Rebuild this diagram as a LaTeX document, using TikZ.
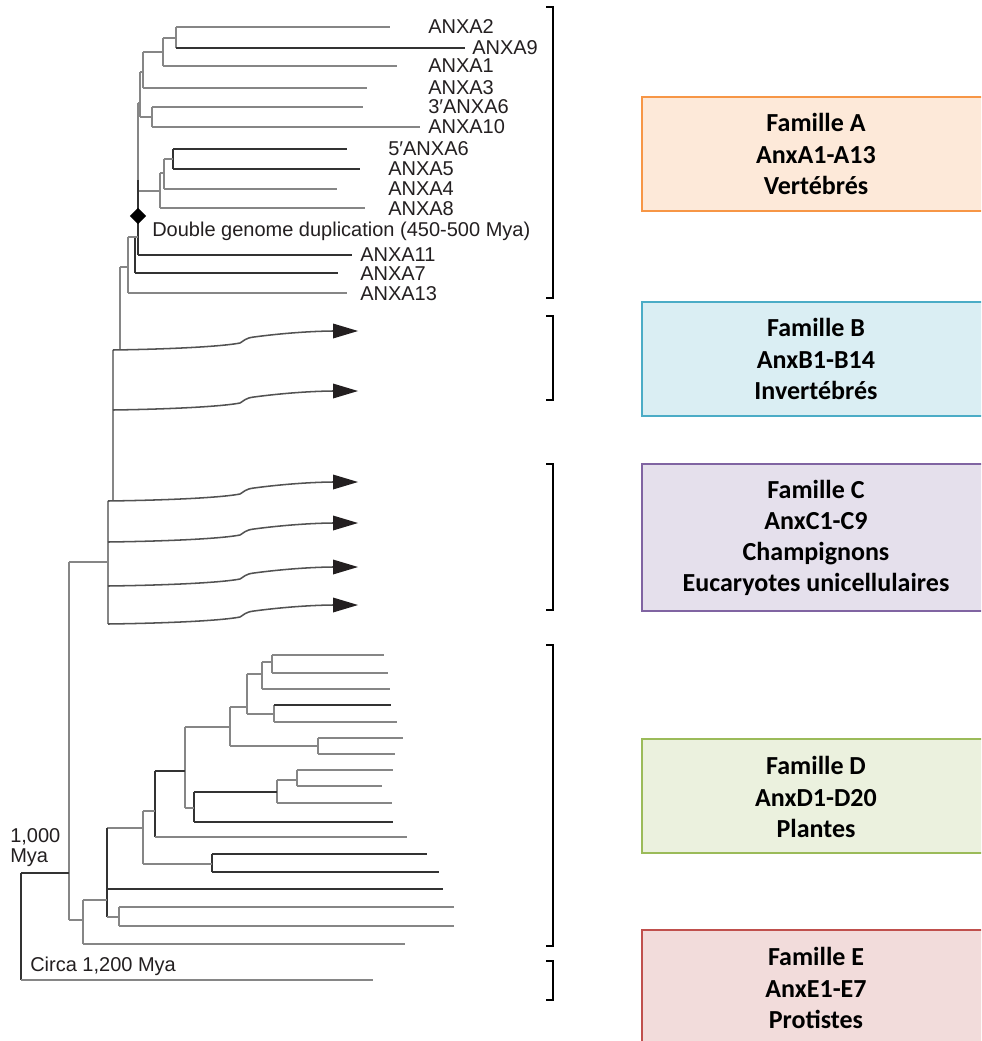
\documentclass[tikz,border=0pt]{standalone}
\usepackage{fontspec}
\setmainfont{Liberation Sans}
\newfontfamily\carlito{Carlito}
\usetikzlibrary{shapes.geometric}
\definecolor{treegray}{HTML}{868686}
\definecolor{treedark}{HTML}{333333}
\definecolor{txt}{HTML}{231F20}
\definecolor{fillA}{HTML}{FDE9D9}\definecolor{lineA}{HTML}{F79646}
\definecolor{fillB}{HTML}{DAEEF3}\definecolor{lineB}{HTML}{4BACC6}
\definecolor{fillC}{HTML}{E5E0EC}\definecolor{lineC}{HTML}{8064A2}
\definecolor{fillD}{HTML}{EBF1DE}\definecolor{lineD}{HTML}{9BBB59}
\definecolor{fillE}{HTML}{F2DCDB}\definecolor{lineE}{HTML}{C0504D}
\tikzset{
  tr/.style={line width=1.15pt, draw=treegray},
  dk/.style={line width=1.15pt, draw=treedark},
  crv/.style={line width=1.15pt, draw=treedark!85},
  lbl/.style={anchor=base west, inner sep=0pt, text=txt, font=\fontsize{15}{17}\selectfont},
  brk/.style={line width=1.2pt, draw=black},
  fambox/.style={line width=1.2pt},
  famtext/.style={align=center, inner sep=0pt, font=\carlito\bfseries\fontsize{19.5}{23.3}\selectfont}
}
\newcommand{\famcurve}[3]{%
  \coordinate (#1) at (#2,#3);
  \draw[crv] (#1) .. controls (180,{#3-1}) and (225,{#3-4}) .. (240,{#3-7})
     .. controls (244,{#3-9}) and (245,{#3-12}) .. (254,{#3-13})
     .. controls (280,{#3-16.5}) and (310,{#3-18.8}) .. (333,{#3-19});
  \fill[txt] (333,{#3-26.5}) -- (358,{#3-19}) -- (333,{#3-11.5}) -- cycle;
}
\begin{document}
\begin{tikzpicture}[x=0.75pt,y=-0.75pt]
\clip (0,0) rectangle (981,1041);
\fill[white] (0,0) rectangle (981,1041);

% ---------- Family A clade ----------
\draw[tr] (176,27) -- (176,48);
\draw[tr] (176,27) -- (390,27);
\draw[dk] (176,48) -- (465,48);
\draw[tr] (163,38) -- (176,38);
\draw[tr] (163,38) -- (163,66);
\draw[tr] (163,66) -- (397,66);
\draw[tr] (143,52) -- (163,52);
\draw[tr] (143,52) -- (143,88);
\draw[tr] (143,88) -- (367,88);
\draw[tr] (140,72) -- (143,72);
\draw[tr] (152,107) -- (152,127);
\draw[tr] (152,107) -- (363,107);
\draw[tr] (152,127) -- (420,127);
\draw[tr] (140,117) -- (152,117);
\draw[tr] (140,72) -- (140,117);
\draw[tr] (138,103) -- (140,103);
\draw[dk] (173,149) -- (173,169);
\draw[dk] (173,149) -- (347,149);
\draw[dk] (173,169) -- (360,169);
\draw[tr] (164,159) -- (173,159);
\draw[tr] (164,159) -- (164,189);
\draw[tr] (164,189) -- (337,189);
\draw[tr] (160,173) -- (164,173);
\draw[tr] (160,173) -- (160,208);
\draw[tr] (160,208) -- (365,208);
\draw[tr] (138,191) -- (160,191);
\draw[tr] (138,103) -- (138,180);
\draw[dk] (138,180) -- (138,255);
\draw[dk] (138,255) -- (352,255);
\draw[dk] (135,237) -- (135,273);
\draw[dk] (135,273) -- (338,273);
\draw[tr] (128,237) -- (138,237);
\draw[tr] (128,237) -- (128,293);
\draw[tr] (128,293) -- (347,293);
\draw[tr] (120,267) -- (128,267);
\draw[tr] (120,267) -- (120,350);
\node[diamond, fill=black, inner sep=0pt, minimum size=12.5pt] (dup) at (138,216) {};

\node[lbl] (lA2) at (428,34) {ANXA2};
\node[lbl] (lA9) at (472,55) {ANXA9};
\node[lbl] (lA1) at (428,73) {ANXA1};
\node[lbl] (lA3) at (428,95) {ANXA3};
\node[lbl] (lA6a) at (428,114) {3′ANXA6};
\node[lbl] (lA10) at (428,134) {ANXA10};
\node[lbl] (lA6b) at (388,156) {5′ANXA6};
\node[lbl] (lA5) at (388,176) {ANXA5};
\node[lbl] (lA4) at (388,196) {ANXA4};
\node[lbl] (lA8) at (388,215) {ANXA8};
\node[lbl] (ldup) at (152,237) {Double genome duplication (450-500 Mya)};
\node[lbl] (lA11) at (360,262) {ANXA11};
\node[lbl] (lA7) at (360,280) {ANXA7};
\node[lbl] (lA13) at (360,300) {ANXA13};

% ---------- Families B and C ----------
\draw[tr] (113,350) -- (113,501);
\draw[tr] (108,501) -- (108,624);
\famcurve{b1}{113}{350}
\famcurve{b2}{113}{410}
\famcurve{c1}{108}{501}
\famcurve{c2}{108}{542}
\famcurve{c3}{108}{586}
\famcurve{c4}{108}{624}
\draw[tr] (69,562) -- (108,562);

% ---------- Family D clade ----------
\draw[tr] (272,655) -- (272,673);
\draw[tr] (272,655) -- (384,655);
\draw[tr] (272,673) -- (388,673);
\draw[tr] (262,662) -- (272,662);
\draw[tr] (262,662) -- (262,689);
\draw[tr] (262,689) -- (390,689);
\draw[tr] (247,674) -- (262,674);
\draw[tr] (274,705) -- (274,722);
\draw[dk] (274,705) -- (391,705);
\draw[tr] (274,722) -- (397,722);
\draw[tr] (247,714) -- (274,714);
\draw[tr] (247,674) -- (247,714);
\draw[tr] (230,707) -- (247,707);
\draw[tr] (318,738) -- (318,754);
\draw[tr] (318,738) -- (403,738);
\draw[tr] (318,754) -- (395,754);
\draw[tr] (230,746) -- (318,746);
\draw[tr] (230,707) -- (230,746);
\draw[tr] (185,727) -- (230,727);
\draw[tr] (297,770) -- (297,786);
\draw[tr] (297,770) -- (393,770);
\draw[tr] (297,786) -- (382,786);
\draw[tr] (277,780) -- (297,780);
\draw[tr] (277,780) -- (277,803);
\draw[tr] (277,803) -- (392,803);
\draw[dk] (194,792) -- (277,792);
\draw[dk] (194,792) -- (194,822);
\draw[dk] (194,822) -- (393,822);
\draw[tr] (185,808) -- (194,808);
\draw[tr] (185,727) -- (185,808);
\draw[dk] (155,771) -- (185,771);
\draw[dk] (155,771) -- (155,837);
\draw[tr] (155,837) -- (407,837);
\draw[tr] (143,811) -- (155,811);
\draw[dk] (212,854) -- (212,872);
\draw[dk] (212,854) -- (427,854);
\draw[dk] (212,872) -- (439,872);
\draw[tr] (143,864) -- (212,864);
\draw[tr] (143,811) -- (143,864);
\draw[tr] (107,828) -- (143,828);
\draw[dk] (107,828) -- (107,917);
\draw[dk] (107,889) -- (443,889);
\draw[tr] (119,907) -- (119,926);
\draw[tr] (119,907) -- (454,907);
\draw[tr] (119,926) -- (454,926);
\draw[tr] (107,917) -- (119,917);
\draw[tr] (83,900) -- (107,900);
\draw[tr] (83,900) -- (83,944);
\draw[tr] (83,944) -- (405,944);
\draw[tr] (69,920) -- (83,920);
\draw[tr] (69,562) -- (69,920);
\draw[dk] (21,873) -- (69,873);
\draw[dk] (21,873) -- (21,980);
\draw[tr] (21,980) -- (373,980);

\node[lbl] (l1000) at (10,842) {1,000};
\node[lbl] (lmya) at (10,862) {Mya};
\node[lbl] (lcirca) at (30,971) {Circa 1,200 Mya};

% ---------- Brackets ----------
\draw[brk] (546,7) -- (553,7) -- (553,298) -- (546,298);
\draw[brk] (546,316) -- (553,316) -- (553,400) -- (546,400);
\draw[brk] (546,464) -- (553,464) -- (553,610) -- (546,610);
\draw[brk] (546,645) -- (553,645) -- (553,946) -- (546,946);
\draw[brk] (546,961) -- (553,961) -- (553,1000) -- (546,1000);

% ---------- Family boxes ----------
\draw[fambox, fill=fillA, draw=lineA] (642,97) rectangle (992,211);
\node[famtext] (fA) at (816,154) {Famille A\\AnxA1-A13\\Vertébrés};
\draw[fambox, fill=fillB, draw=lineB] (642,302) rectangle (992,416);
\node[famtext] (fB) at (816,359) {Famille B\\AnxB1-B14\\Invertébrés};
\draw[fambox, fill=fillC, draw=lineC] (642,464) rectangle (992,611);
\node[famtext] (fC) at (816,538) {Famille C\\AnxC1-C9\\Champignons\\Eucaryotes unicellulaires};
\draw[fambox, fill=fillD, draw=lineD] (642,739) rectangle (992,853);
\node[famtext] (fD) at (816,797) {Famille D\\AnxD1-D20\\Plantes};
\draw[fambox, fill=fillE, draw=lineE] (642,930) rectangle (992,1060);
\node[famtext] (fE) at (816,988) {Famille E\\AnxE1-E7\\Protistes};
\end{tikzpicture}
\end{document}
